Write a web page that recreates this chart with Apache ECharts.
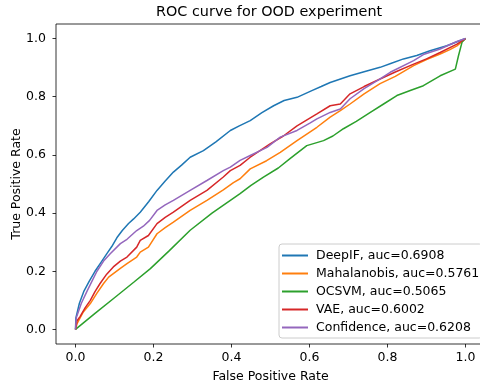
<!DOCTYPE html>
<html>
<head>
<meta charset="utf-8">
<script src="https://cdn.jsdelivr.net/npm/echarts@6/dist/echarts.min.js"></script>
<style>
  html, body { margin: 0; padding: 0; background: #fff; }
  #chart { width: 480px; height: 384px; }
</style>
</head>
<body>
<div id="chart"></div>
<script>
// ROC points: [FPR, TPR]
const deepif = [[0,0],[0.001,0.04],[0.01,0.09],[0.021,0.13],[0.035,0.165],[0.05,0.2],[0.065,0.23],[0.08,0.26],[0.093,0.285],[0.106,0.315],[0.12,0.34],[0.136,0.364],[0.149,0.38],[0.166,0.403],[0.188,0.44],[0.209,0.478],[0.23,0.51],[0.251,0.541],[0.272,0.565],[0.294,0.592],[0.328,0.615],[0.36,0.645],[0.397,0.684],[0.42,0.7],[0.448,0.718],[0.478,0.745],[0.508,0.769],[0.535,0.787],[0.568,0.798],[0.606,0.821],[0.63,0.835],[0.653,0.849],[0.704,0.872],[0.74,0.886],[0.781,0.901],[0.81,0.915],[0.841,0.93],[0.875,0.942],[0.909,0.958],[0.952,0.975],[0.98,0.99],[1,1]]
const mahalanobis = [[0,0],[0.004,0.02],[0.02,0.06],[0.038,0.089],[0.055,0.125],[0.072,0.158],[0.085,0.18],[0.097,0.192],[0.115,0.21],[0.132,0.226],[0.157,0.249],[0.166,0.266],[0.187,0.283],[0.209,0.329],[0.23,0.35],[0.251,0.369],[0.294,0.409],[0.337,0.444],[0.379,0.48],[0.405,0.505],[0.422,0.518],[0.448,0.552],[0.49,0.58],[0.525,0.609],[0.568,0.649],[0.619,0.695],[0.653,0.73],[0.679,0.752],[0.704,0.775],[0.74,0.81],[0.781,0.845],[0.82,0.87],[0.867,0.907],[0.9,0.928],[0.935,0.947],[0.96,0.962],[0.978,0.975],[1,1]]
const ocsvm = [[0,0],[0.05,0.055],[0.1,0.109],[0.15,0.163],[0.192,0.209],[0.24,0.27],[0.294,0.341],[0.35,0.4],[0.422,0.467],[0.45,0.495],[0.482,0.524],[0.52,0.555],[0.55,0.587],[0.593,0.632],[0.636,0.649],[0.66,0.665],[0.687,0.69],[0.72,0.715],[0.756,0.746],[0.79,0.775],[0.824,0.804],[0.86,0.822],[0.892,0.838],[0.935,0.872],[0.974,0.895],[0.982,0.941],[0.991,0.987],[1,1]]
const vae = [[0,0],[0.004,0.03],[0.012,0.045],[0.025,0.075],[0.038,0.1],[0.05,0.13],[0.063,0.158],[0.08,0.19],[0.097,0.215],[0.115,0.235],[0.132,0.249],[0.157,0.283],[0.166,0.306],[0.187,0.323],[0.209,0.364],[0.23,0.385],[0.251,0.403],[0.294,0.444],[0.337,0.478],[0.379,0.524],[0.397,0.546],[0.422,0.564],[0.448,0.592],[0.499,0.638],[0.533,0.665],[0.568,0.7],[0.619,0.741],[0.653,0.769],[0.679,0.775],[0.704,0.81],[0.74,0.835],[0.781,0.861],[0.82,0.885],[0.867,0.912],[0.9,0.93],[0.935,0.952],[0.978,0.981],[1,1]]
const confidence = [[0,0],[0.002,0.04],[0.015,0.09],[0.029,0.13],[0.042,0.165],[0.055,0.2],[0.072,0.235],[0.089,0.26],[0.115,0.295],[0.132,0.31],[0.157,0.34],[0.174,0.355],[0.19,0.375],[0.209,0.409],[0.23,0.428],[0.251,0.444],[0.294,0.478],[0.337,0.512],[0.379,0.546],[0.397,0.558],[0.422,0.581],[0.448,0.598],[0.491,0.626],[0.525,0.661],[0.568,0.684],[0.602,0.71],[0.619,0.724],[0.653,0.746],[0.679,0.758],[0.704,0.793],[0.74,0.828],[0.781,0.861],[0.807,0.884],[0.867,0.924],[0.892,0.945],[0.935,0.964],[0.978,0.99],[1,1]]

const names = ['DeepIF, auc=0.6908', 'Mahalanobis, auc=0.5761', 'OCSVM, auc=0.5065', 'VAE, auc=0.6002', 'Confidence, auc=0.6208']
const colors = ['#1f77b4', '#ff7f0e', '#2ca02c', '#d62728', '#9467bd']
const ticks = [0, 0.2, 0.4, 0.6, 0.8, 1.0]

const font = 'DejaVu Sans'
const chart = echarts.init(document.getElementById('chart'))

const axisBase = {
  type: 'value',
  min: -0.05,
  max: 1.05,
  nameLocation: 'middle',
  nameMoveOverlap: false,
  nameTextStyle: { fontFamily: font, fontSize: 12.5, color: '#000' },
  axisLine: { show: false, onZero: false },
  splitLine: { show: false },
  axisTick: { show: true, length: 3.5, customValues: ticks, lineStyle: { color: '#000', width: 0.8 } },
  axisLabel: { customValues: ticks, fontFamily: font, fontSize: 12.5, color: '#000', formatter: v => v.toFixed(1) }
}

const lines = [deepif, mahalanobis, ocsvm, vae, confidence].map((d, i) => ({
  name: names[i],
  type: 'line',
  data: d,
  showSymbol: false,
  symbol: 'none',
  color: colors[i],
  lineStyle: { width: 1.5, color: colors[i] }
}))

chart.setOption({
  animation: false,
  title: {
    text: 'ROC curve for OOD experiment',
    left: 151, top: 0,
    textStyle: { fontFamily: font, fontSize: 14.4, fontWeight: 'normal', color: '#000' }
  },
  grid: {
    left: 56, top: 24, width: 429, height: 320,
    outerBoundsMode: 'none',
    show: true, borderColor: '#000', borderWidth: 0.8
  },
  xAxis: { ...axisBase, name: 'False Positive Rate', nameGap: 26,
    axisLabel: { ...axisBase.axisLabel, margin: 7 } },
  yAxis: { ...axisBase, name: 'True Positive Rate', nameGap: 33,
    axisLabel: { ...axisBase.axisLabel, margin: 10 } },
  legend: {
    orient: 'vertical',
    left: 279, top: 244,
    padding: [4, 3, 3, 3],
    backgroundColor: '#fff',
    borderColor: '#ccc', borderWidth: 1, borderRadius: 3,
    icon: 'rect', itemWidth: 26, itemHeight: 2, itemGap: 3,
    textStyle: { fontFamily: font, fontSize: 12.5, color: '#000', lineHeight: 15, padding: [0, 0, 0, 3] },
    data: names
  },
  series: lines
})
</script>
</body>
</html>
